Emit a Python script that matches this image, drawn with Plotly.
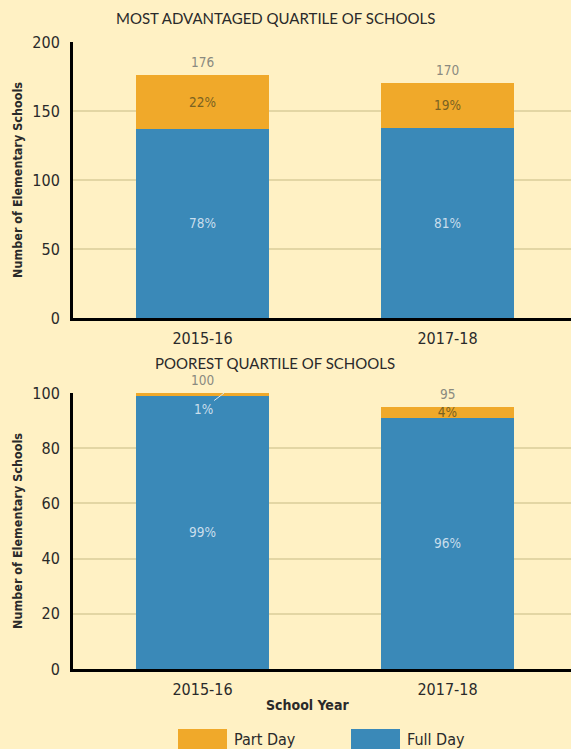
import plotly.graph_objects as go
from plotly.subplots import make_subplots

years = ["2015-16", "2017-18"]
adv_full = [137, 138]
adv_part = [39, 32]
adv_full_pct = ["78%", "81%"]
adv_part_pct = ["22%", "19%"]
poor_full = [99, 91]
poor_part = [1, 4]
poor_full_pct = ["99%", "96%"]
poor_part_pct = ["1%", "4%"]

BG = "#fff1c4"
ORANGE = "#f0a92a"
BLUE = "#3a89b8"
GRID = "#e3d6a4"
NARROW = "Liberation Sans Narrow, DejaVu Sans Condensed, sans-serif"
TITLEF = "Lato, Open Sans, sans-serif"
DARK = "#2a2a2a"

W, H = 571, 749
ML, MR, MT, MB = 73, 0, 42, 80
PW = W - ML - MR
PH = H - MT - MB

def py(ypix):
    return (H - MB - ypix) / PH

def px(xpix):
    return (xpix - ML) / PW

fig = make_subplots(rows=2, cols=1, vertical_spacing=0.12)
fig.update_yaxes(domain=[py(318), 1.0], row=1, col=1)
fig.update_yaxes(domain=[0.0, py(393)], row=2, col=1)

xs = [0, 1]
BW = 0.543

def add_panel(row, full, part, full_pct, part_pct, part_text_visible):
    xref = "x" if row == 1 else "x2"
    yref = "y" if row == 1 else "y2"
    fig.add_trace(go.Bar(
        x=xs, y=full, width=BW, marker=dict(color=BLUE, line=dict(width=0)),
        text=full_pct, textposition="inside", insidetextanchor="middle",
        constraintext="none",
        textfont=dict(family=NARROW, size=13.5, color="#c9deec"),
        name="Full Day", showlegend=False, hoverinfo="skip"), row=row, col=1)
    fig.add_trace(go.Bar(
        x=xs, y=part, width=BW, marker=dict(color=ORANGE, line=dict(width=0)),
        text=[t if v else "" for t, v in zip(part_pct, part_text_visible)],
        textposition="inside", insidetextanchor="middle",
        constraintext="none",
        textfont=dict(family=NARROW, size=13.5, color="#7a6222"),
        name="Part Day", showlegend=False, hoverinfo="skip"), row=row, col=1)
    totals = [f + p for f, p in zip(full, part)]
    for xv, t in zip(xs, totals):
        fig.add_annotation(x=xv, y=t, xref=xref, yref=yref, text=str(t),
                           showarrow=False, xanchor="center", yanchor="bottom",
                           yshift=3,
                           font=dict(family=NARROW, size=13.5, color="#8a8a80"))

add_panel(1, adv_full, adv_part, adv_full_pct, adv_part_pct, [True, True])
add_panel(2, poor_full, poor_part, poor_full_pct, poor_part_pct, [False, True])

# leader label for the tiny 1% part-day segment
fig.add_annotation(
    x=xs[0] + 0.088, y=poor_full[0] + poor_part[0], xref="x2", yref="y2",
    text=poor_part_pct[0], showarrow=True, arrowhead=0, arrowwidth=1,
    arrowcolor="#d6e6f1", ax=-21, ay=16,
    font=dict(family=NARROW, size=13.5, color="#c9deec"))

fig.update_layout(
    barmode="stack",
    width=W, height=H,
    margin=dict(l=ML, r=MR, t=MT, b=MB),
    paper_bgcolor=BG, plot_bgcolor=BG,
    showlegend=False,
)

xr = [-0.5286, -0.5286 + PW / 245.0]
for r in (1, 2):
    fig.update_xaxes(row=r, col=1, range=xr, tickmode="array", tickvals=xs,
                     ticktext=years, showgrid=False, zeroline=False,
                     showline=True, linecolor="black", linewidth=3,
                     ticks="", ticklabelstandoff=4,
                     tickfont=dict(family=NARROW, size=16, color=DARK))
fig.update_yaxes(row=1, col=1, range=[0, 200], dtick=50)
fig.update_yaxes(row=2, col=1, range=[0, 100], dtick=20)
fig.update_yaxes(showgrid=True, gridcolor=GRID, gridwidth=1.5, zeroline=False,
                 showline=True, linecolor="black", linewidth=3, ticks="",
                 ticklabelstandoff=7,
                 tickfont=dict(family=NARROW, size=16, color=DARK),
                 title=dict(text="<b>Number of Elementary Schools</b>", standoff=7,
                            font=dict(family=NARROW, size=12.5, color=DARK)))

# panel titles
fig.add_annotation(x=px(275), y=py(18), xref="paper", yref="paper",
                   xanchor="center", yanchor="middle",
                   text="MOST ADVANTAGED QUARTILE OF SCHOOLS", showarrow=False,
                   font=dict(family=TITLEF, size=15, color=DARK))
fig.add_annotation(x=px(275), y=py(363), xref="paper", yref="paper",
                   xanchor="center", yanchor="middle",
                   text="POOREST QUARTILE OF SCHOOLS", showarrow=False,
                   font=dict(family=TITLEF, size=15, color=DARK))
fig.add_annotation(x=px(307), y=py(705), xref="paper", yref="paper",
                   xanchor="center", yanchor="middle",
                   text="<b>School Year</b>", showarrow=False,
                   font=dict(family=NARROW, size=14, color=DARK))

# legend
for x0, x1, col, label in [(178, 227, ORANGE, "Part Day"), (351, 400, BLUE, "Full Day")]:
    fig.add_shape(type="rect", xref="paper", yref="paper",
                  x0=px(x0), x1=px(x1), y0=py(750), y1=py(729),
                  fillcolor=col, line=dict(width=0))
    fig.add_annotation(x=px(x1 + 5), y=py(739), xref="paper", yref="paper",
                       text=label, showarrow=False, xanchor="left", yanchor="middle",
                       font=dict(family=NARROW, size=16, color=DARK))

fig.write_html("out.html", config={"displayModeBar": False},
               post_script="document.body.style.margin='0px';")
